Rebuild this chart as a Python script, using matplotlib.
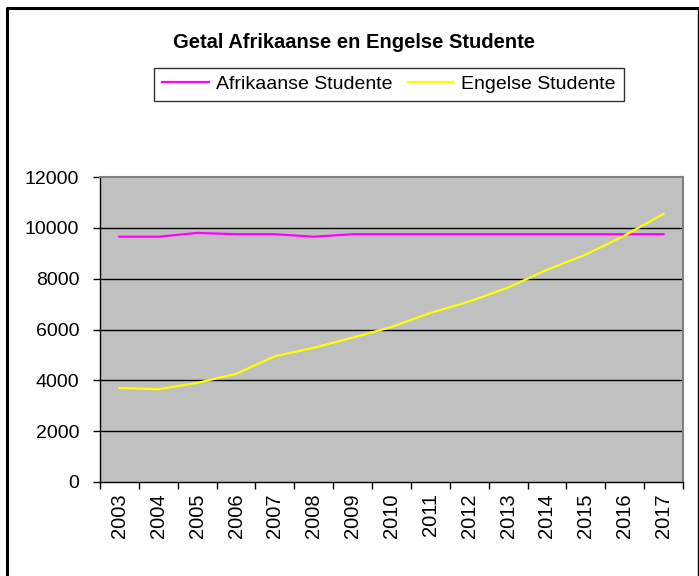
import matplotlib
matplotlib.use('Agg')
import matplotlib.pyplot as plt
from matplotlib.lines import Line2D

plt.rcParams['font.family'] = ['Liberation Sans', 'DejaVu Sans']

# data
years = ['2003', '2004', '2005', '2006', '2007', '2008', '2009', '2010',
         '2011', '2012', '2013', '2014', '2015', '2016', '2017']
afrikaans = [9650, 9650, 9800, 9750, 9750, 9650, 9750, 9750,
             9750, 9750, 9750, 9750, 9750, 9750, 9750]
engels = [3700, 3650, 3900, 4250, 4950, 5280, 5680, 6100,
          6650, 7100, 7650, 8350, 8950, 9700, 10550]
y_ticks = [0, 2000, 4000, 6000, 8000, 10000, 12000]

W, H = 699, 576
fig = plt.figure(figsize=(W / 100, H / 100), dpi=100)
fig.patch.set_facecolor('white')

# outer chart border: thick left/top, thin right
bl, bt, br = 7 / W, 1 - 8 / H, 697.5 / W
fig.lines.append(Line2D([bl, bl, br], [0, bt, bt], transform=fig.transFigure,
                        color='black', lw=2.2))
fig.lines.append(Line2D([br, br], [bt, 0], transform=fig.transFigure,
                        color='black', lw=1))

ax = fig.add_axes([100 / W, 94 / H, 583 / W, 305 / H])
ax.set_facecolor('#c0c0c0')

x = list(range(len(years)))
ax.plot(x, afrikaans, color='#ff00ff', lw=1.6, label='Afrikaanse Studente')
ax.plot(x, engels, color='#ffff00', lw=1.6, label='Engelse Studente')

ax.set_xlim(-0.5, len(years) - 0.5)
ax.set_ylim(0, 12000)
ax.set_yticks(y_ticks)
ax.set_yticklabels([str(v) for v in y_ticks], fontsize=14)
ax.set_xticks([i - 0.5 for i in range(len(years) + 1)])
ax.set_xticklabels([])
ax.set_xticks(x, minor=True)
ax.set_xticklabels(years, minor=True, rotation=90, fontsize=14.5)
ax.tick_params(axis='x', which='minor', length=0, pad=8)
ax.tick_params(axis='x', which='major', length=5, width=1, color='black', direction='out')
ax.tick_params(axis='y', length=5, width=1, color='black', direction='out', pad=10)

for v in y_ticks[1:-1]:
    ax.axhline(v, color='black', lw=1, zorder=1)

for side in ['top', 'right']:
    ax.spines[side].set_color('#808080')
    ax.spines[side].set_linewidth(1.5)
for side in ['left', 'bottom']:
    ax.spines[side].set_color('black')
    ax.spines[side].set_linewidth(1)

fig.text(354 / W, 1 - 42 / H, 'Getal Afrikaanse en Engelse Studente',
         ha='center', va='center', fontsize=14.5, fontweight='bold')

leg = fig.legend(loc='center', bbox_to_anchor=(389 / W, 1 - 84.5 / H), ncol=2,
                 fontsize=14, frameon=True, fancybox=False, handlelength=2.4,
                 handletextpad=0.35, columnspacing=0.8, borderpad=0.4,
                 borderaxespad=0)
leg.get_frame().set_edgecolor('black')
leg.get_frame().set_linewidth(1)
for line in leg.get_lines():
    line.set_linewidth(1.6)

fig.savefig('out.png', dpi=100)
